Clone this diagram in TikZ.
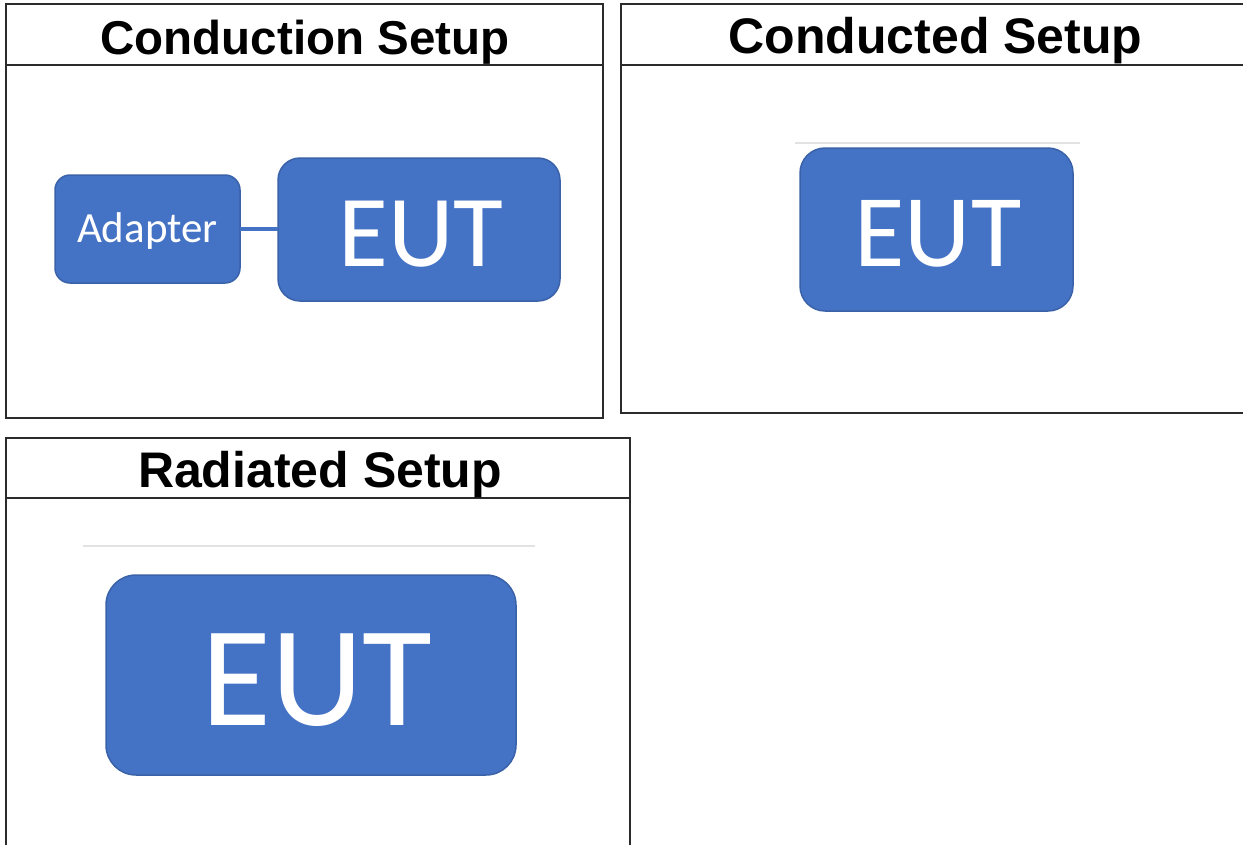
\documentclass[tikz,border=0pt]{standalone}
\usepackage{fontspec}
\setmainfont{Liberation Sans}
\newfontfamily\calibri{Carlito}
\definecolor{boxblue}{HTML}{4472C4}
\definecolor{boxedge}{HTML}{3A62A8}
\definecolor{panelline}{HTML}{2B2B2B}
\definecolor{faint}{HTML}{E2E2E2}
\begin{document}
\begin{tikzpicture}[x=1pt,y=-1pt,
  panel/.style={draw=panelline,line width=1.8pt},
  title/.style={anchor=base,inner sep=0pt,font=\bfseries\fontsize{#1}{#1}\selectfont},
  bluebox/.style={draw=boxedge,fill=boxblue,line width=1.5pt,inner sep=0pt,text=white},
  wire/.style={draw=boxblue,line width=4.5pt}]
\useasboundingbox (0,0) rectangle (1243,844);
% panel 1
\draw[panel] (6,4) rectangle (603,418);
\draw[panel] (6,65) -- (603,65);
\node[title=47.5] (t1) at (305,54) {Conduction Setup};
\node[bluebox,rounded corners=15pt,minimum width=185pt,minimum height=108pt] (adapter) at (147.5,229) {};
\node[anchor=base,inner sep=0pt,text=white,font=\calibri\fontsize{43}{43}\selectfont] (adaptertext) at (147.5,242) {Adapter};
\node[bluebox,rounded corners=22pt,minimum width=282pt,minimum height=143pt] (eut1) at (419,229.5) {};
\node[anchor=base,inner sep=0pt,text=white,font=\calibri\fontsize{102}{102}\selectfont] (eut1text) at (421,266) {EUT};
\begin{scope}[on background layer/.try]
\end{scope}
\draw[wire] ([xshift=-1pt]adapter.east) -- ([xshift=1pt]adapter.east -| eut1.west);
% panel 2
\draw[panel] (1246,4) -- (621,4) -- (621,413) -- (1246,413);
\draw[panel] (621,65) -- (1246,65);
\node[title=50] (t2) at (935.5,53) {Conducted Setup};
\draw[faint,line width=1.5pt] (795,143) -- (1080,143);
\node[bluebox,rounded corners=25pt,minimum width=273pt,minimum height=163pt] (eut2) at (936.5,229.5) {};
\node[anchor=base,inner sep=0pt,text=white,font=\calibri\fontsize{103}{103}\selectfont] (eut2text) at (938,266) {EUT};
% panel 3
\draw[panel] (6,847) -- (6,438) -- (630,438) -- (630,847);
\draw[panel] (6,498) -- (630,498);
\node[title=50] (t3) at (320,487) {Radiated Setup};
\draw[faint,line width=1.5pt] (83,546) -- (535,546);
\node[bluebox,rounded corners=30pt,minimum width=410pt,minimum height=200pt] (eut3) at (311,675) {};
\node[anchor=base,inner sep=0pt,text=white,font=\calibri\fontsize{143}{143}\selectfont] (eut3text) at (317,725) {EUT};
\end{tikzpicture}
\end{document}
